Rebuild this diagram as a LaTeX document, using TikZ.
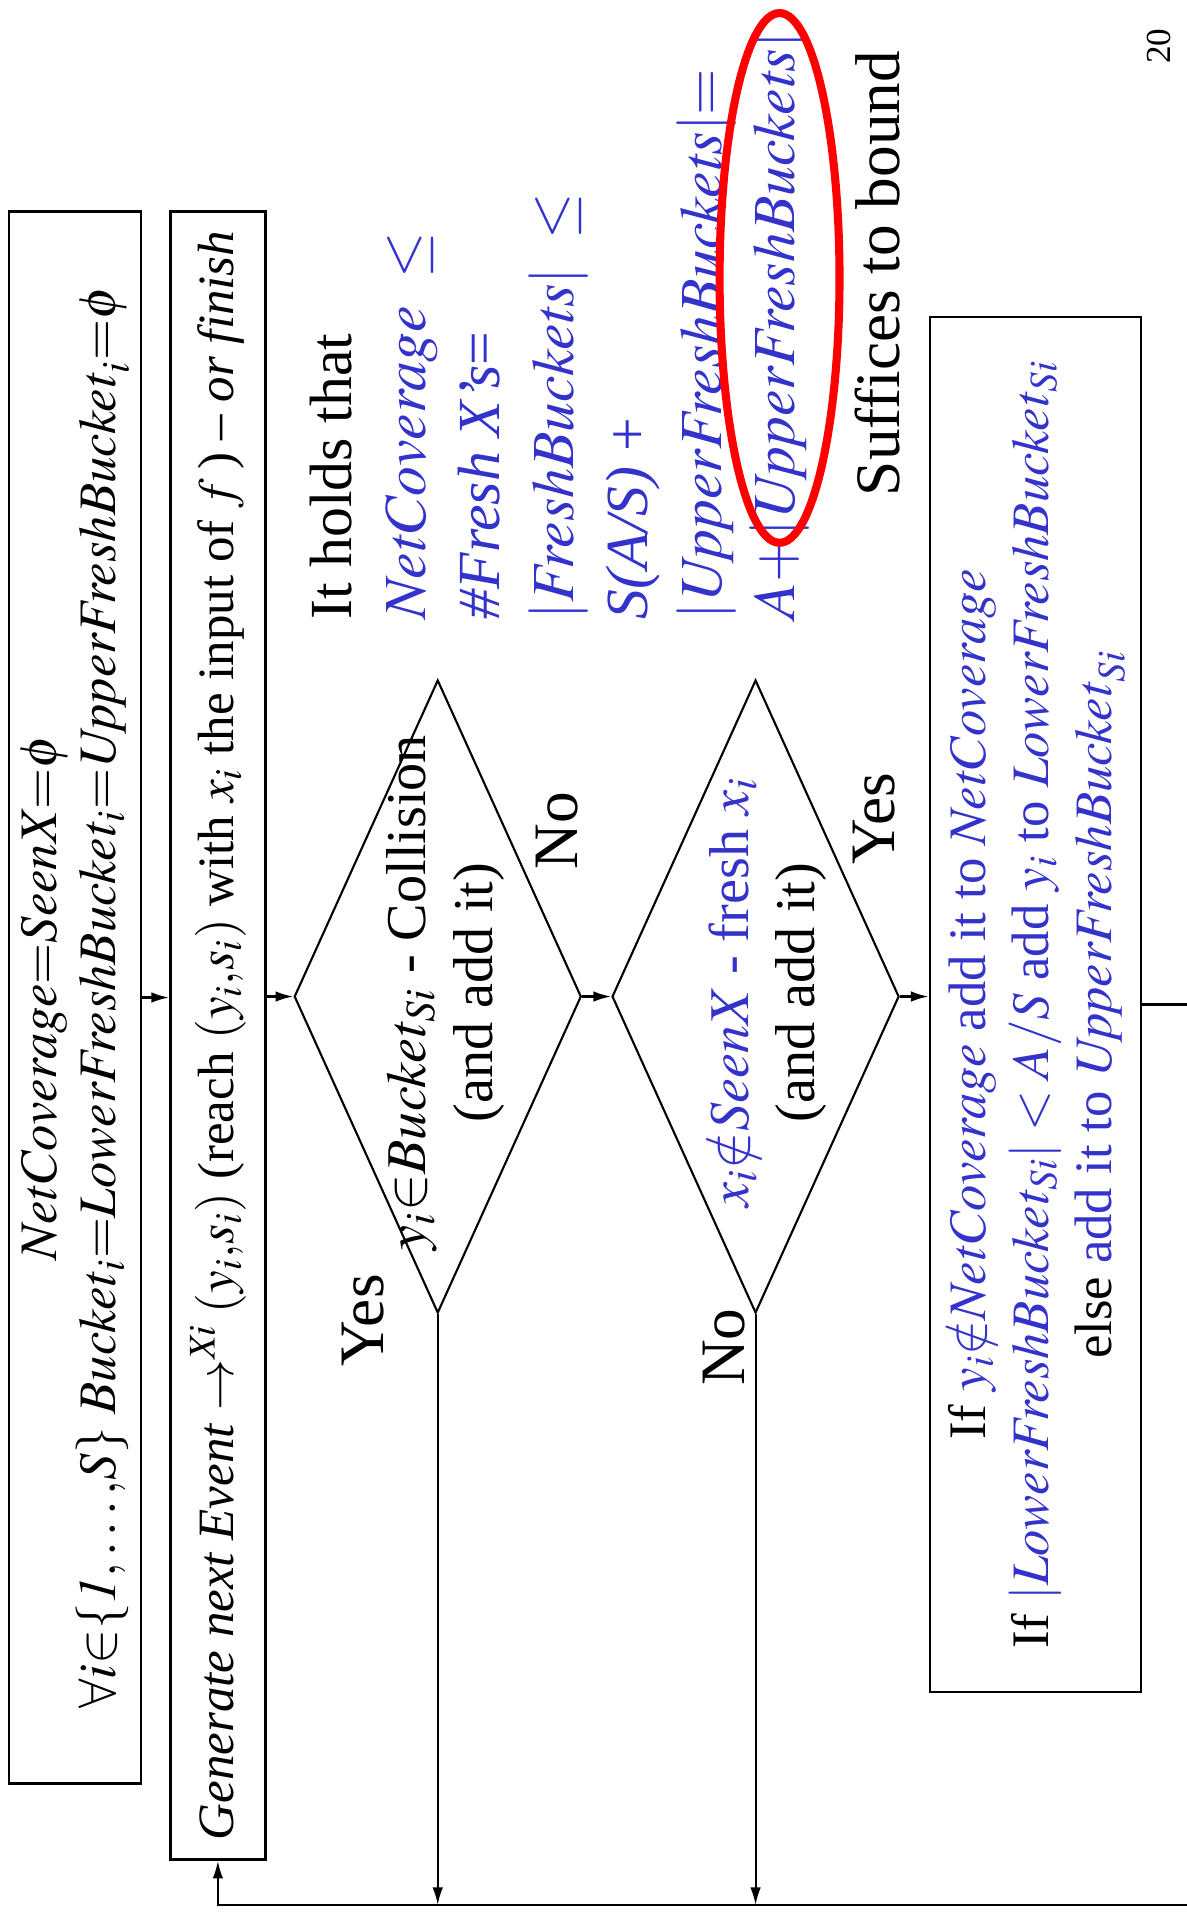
\documentclass[tikz,border=0pt]{standalone}
\usepackage{mathptmx}
\usepackage{fontspec}
\setmainfont{Liberation Serif}
\usetikzlibrary{shapes.geometric,arrows.meta}
\definecolor{slideblue}{RGB}{51,51,204}
\tikzset{
  stepbox/.style={draw, rectangle, line width=0.8pt, inner sep=0pt, align=center},
  decision/.style={draw, diamond, line width=0.6pt, inner sep=0pt,
    minimum width=6.33cm, minimum height=2.87cm},
  flow/.style={->, line width=0.6pt},
  answer/.style={font=\fontsize{18}{20}\selectfont},
}

\begin{document}
\begin{tikzpicture}[>={Latex[length=5pt,width=3pt]}, font=\fontsize{17}{20}\selectfont]
    \useasboundingbox (0,0) rectangle (11.86,19.22);

    % the slide is drawn sideways: first coordinate along the text, second down the slide
    \begin{scope}[rotate=90, transform shape, x=0.01cm, y=0.01cm]

    % --- 1. boxes ---
    \node[stepbox, minimum width=15.72cm, minimum height=1.32cm, font=\fontsize{15}{17}\selectfont] (init) at (925,-75)
        {$\mathit{NetCoverage}{=}\mathit{SeenX}{=}\phi$\\
         $\forall i{\in}\{\mathit{1}{,}\dots{,}S\}\ \mathit{Bucket}_i{=}\mathit{LowerFreshBucket}_i{=}\mathit{UpperFreshBucket}_i{=}\phi$};

    \node[stepbox, minimum width=16.48cm, minimum height=0.95cm, font=\fontsize{14.5}{17}\selectfont] (gen) at (887,-218)
        {\textit{Generate next Event} $\rightarrow^{\mathit{Xi}}(y_i{,}s_i)$ (reach $(y_i{,}s_i)$ with $x_i$ the input of $f$\,) \textit{-- or finish}};

    \node[stepbox, minimum width=13.75cm, minimum height=2.11cm, font=\fontsize{15}{18}\selectfont] (act) at (918,-1036)
        {If {\color{slideblue}$y_i{\notin}\mathit{NetCoverage}$ add it to $\mathit{NetCoverage}$}\\
         If {\color{slideblue}$|\mathit{LowerFreshBucket}_{\mathit{Si}}| < A/S$ add $y_i$ to $\mathit{LowerFreshBucket}_{\mathit{Si}}$}\\
         else {\color{slideblue}add it to $\mathit{UpperFreshBucket}_{\mathit{Si}}$}};

    % --- 2. the two tests ---
    \node[decision] (d1) at (926,-438) {};
    \node[align=center, font=\fontsize{16}{19}\selectfont] (d1q) at (930,-446)
        {$y_i{\in}\mathit{Bucket}_{\mathit{Si}}$ - Collision\\(and add it)};

    \node[decision] (d2) at (926,-756) {};
    \node[align=center, font=\fontsize{16}{19}\selectfont] (d2q) at (930,-767)
        {{\color{slideblue}$x_i{\notin}\mathit{SeenX}$ - fresh $x_i$}\\(and add it)};

    \node[answer] (yes1) at (602,-363) {Yes};
    \node[answer] (no1) at (1092,-557) {No};
    \node[answer] (no2) at (575,-725) {No};
    \node[answer] (yes2) at (1104,-875) {Yes};

    % --- 3. connectors ---
    \coordinate (back) at (17,-1240);
    \draw[flow] (init.south) -- (init.south |- gen.north);
    \draw[flow] (d1.north |- gen.south) -- (d1.north);
    \draw[flow] (d1.south) -- (d2.north);
    \draw[flow] (d2.south) -- (d2.south |- act.north);
    \draw[flow] (d1.west) -- (d1.west -| back);
    \draw[flow] (d2.west) -- (d2.west -| back);
    \draw[flow] (act.south) -- (act.south |- back) -- (back) -- (back |- gen.west) -- (gen.west);

    % --- 4. the bound ---
    \node[anchor=north west, align=left, inner sep=0pt, font=\fontsize{17}{21}\selectfont] (holds) at (1303,-310)
        {It holds that\\
         {\color{slideblue}$\mathit{NetCoverage}\ \leq$}\\
         {\color{slideblue}\textit{\#Fresh X's}=}\\
         {\color{slideblue}$|\mathit{FreshBuckets}|\ \leq$}\\
         {\color{slideblue}\textit{S(A/S)} +}\\
         {\color{slideblue}$|\mathit{UpperFreshBuckets}|{=}$}\\
         {\color{slideblue}$A{+}|\mathit{UpperFreshBuckets}|$}};
    \node[anchor=base west, inner sep=0pt, font=\fontsize{18}{20}\selectfont] (bound) at (1426,-900) {Suffices to bound};
    \draw[red, line width=2.3pt] (1645,-780) ellipse [x radius=265, y radius=60];

    \node[font=\fontsize{10}{12}\selectfont] (page) at (1877,-1160) {20};

    \end{scope}
\end{tikzpicture}
\end{document}
